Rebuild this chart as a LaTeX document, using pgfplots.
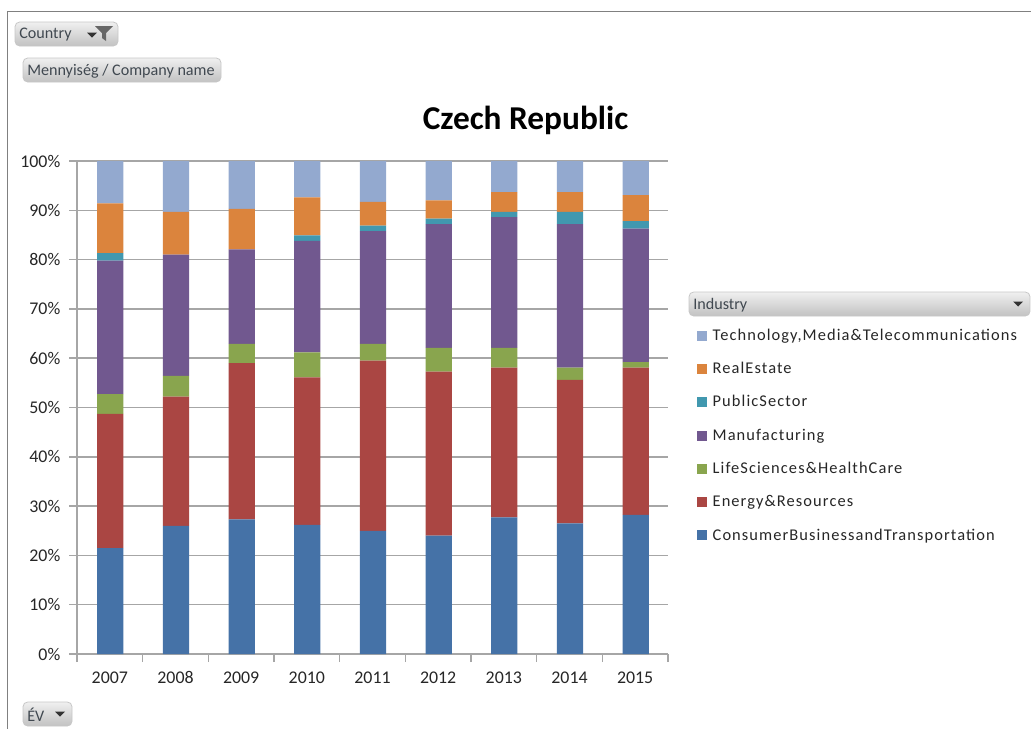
\documentclass[border=0pt]{standalone}
\usepackage{pgfplots}
\usepackage{fontspec}
\pgfplotsset{compat=1.18}
\setmainfont{Carlito}
\newfontfamily\legfont[LetterSpace=6.7]{Carlito}
\definecolor{cCons}{HTML}{4572A7}
\definecolor{cEner}{HTML}{AA4643}
\definecolor{cLife}{HTML}{89A54E}
\definecolor{cManu}{HTML}{71588F}
\definecolor{cPubl}{HTML}{4198AF}
\definecolor{cReal}{HTML}{DB843D}
\definecolor{cTech}{HTML}{93A9CF}
\definecolor{axgray}{HTML}{A6A6A6}
\definecolor{txt}{HTML}{262626}
\definecolor{btntxt}{HTML}{404850}
\pgfplotstableread{
x Cons Ener Life Manu Publ Real Tech
0 21.5 27.2 4.0 27.1 1.5 10.1 8.6
1 26.0 26.2 4.2 24.6 0.0 8.7 10.3
2 27.3 31.7 3.9 19.2 0.0 8.2 9.7
3 26.2 29.9 5.1 22.6 1.1 7.7 7.4
4 25.0 34.5 3.4 22.9 1.1 4.8 8.3
5 24.0 33.3 4.8 25.1 1.1 3.7 8.0
6 27.7 30.4 4.0 26.5 1.1 4.0 6.3
7 26.5 29.1 2.5 29.1 2.5 4.0 6.3
8 28.2 29.9 1.1 27.1 1.5 5.3 6.9
}\datatable
\newcommand{\btn}[5]{% x1,y1,x2,y2,text
  \draw[draw=black!22,top color=black!6,bottom color=black!24,rounded corners=3.5pt,line width=.6pt] (#1,-#2) rectangle (#3,-#4);
  \node[anchor=west,inner sep=0pt,text=btntxt,font=\fontsize{12.1pt}{13pt}\selectfont] at (#1+4,-#2/2-#4/2-1) {#5};
}
\newcommand{\tri}[2]{\fill[black!80] (#1-5,-#2+2.5) -- (#1+5,-#2+2.5) -- (#1,-#2-2.5) -- cycle;}
\begin{document}
\begin{tikzpicture}
\begin{axis}[
  at={(57.75pt,-490.5pt)},anchor=south west,
  scale only axis,width=443.25pt,height=369.75pt,
  ybar stacked,bar width=19.7pt,bar shift=.4pt,
  xmin=-0.5,xmax=8.5,ymin=0,ymax=100,
  xtick={-0.5,0.5,1.5,2.5,3.5,4.5,5.5,6.5,7.5,8.5},
  x tick label as interval,
  xticklabels={2007,2008,2009,2010,2011,2012,2013,2014,2015},
  ytick={0,10,...,100},
  yticklabel={\pgfmathprintnumber{\tick}\%},
  /pgf/number format/assume math mode=true,
  ymajorgrids,
  grid style={axgray,line width=1.1pt},
  axis line style={axgray,line width=1.1pt},
  axis x line*=bottom,axis y line*=left,
  axis line style={-},
  tick style={axgray,line width=1.1pt},
  tick align=outside,major tick length=6pt,
  tick label style={font=\fontsize{13.4pt}{15pt}\selectfont,text=txt},
  every x tick label/.append style={yshift=-3.8pt},
  every y tick label/.append style={xshift=-3pt},
  axis on top=false,
  reverse legend,
  legend style={at={(1.0,0.659)},anchor=north west,draw=none,fill=none,
    /tikz/every odd column/.append style={column sep=4.5pt},
    row sep=13.45pt,inner sep=0pt,outer sep=0pt,xshift=21.5pt,
    font=\legfont\fontsize{12.3pt}{13pt}\selectfont,text=txt,
    nodes={anchor=base west,inner sep=0pt,text height=8.5pt,text depth=3pt}},
  legend cell align=left,
  legend image code/.code={\fill[#1,draw=none] (0pt,-0.2pt) rectangle (7.5pt,7.3pt);},
]
\addplot[fill=cCons,draw=none] table[x=x,y=Cons]{\datatable};
\addplot[fill=cEner,draw=none] table[x=x,y=Ener]{\datatable};
\addplot[fill=cLife,draw=none] table[x=x,y=Life]{\datatable};
\addplot[fill=cManu,draw=none] table[x=x,y=Manu]{\datatable};
\addplot[fill=cPubl,draw=none] table[x=x,y=Publ]{\datatable};
\addplot[fill=cReal,draw=none] table[x=x,y=Real]{\datatable};
\addplot[fill=cTech,draw=none] table[x=x,y=Tech]{\datatable};
\legend{ConsumerBusinessandTransportation,Energy\&Resources,LifeSciences\&HealthCare,Manufacturing,PublicSector,RealEstate,{Technology,Media\&Telecommunications}}
\end{axis}
\begin{scope}[x=0.75pt,y=0.75pt]
\path[use as bounding box] (0,0) rectangle (1031,-729);
\draw[black!50,line width=.8pt] (1031,-11.5) -- (7.5,-11.5) -- (7.5,-729);
\node[font=\bfseries\fontsize{25pt}{28pt}\selectfont,text=black] at (525.5,-120) {Czech Republic};
\btn{15}{22}{118}{46}{Country}
\tri{92}{35}
\fill[black!60] (95,-26) -- (113,-26) -- (106,-33) -- (106,-41) -- (102,-38) -- (102,-33) -- cycle;
\btn{23}{58}{221}{82}{Mennyiség / Company name}
\btn{23}{702}{72}{726}{ÉV}
\tri{60}{714}
\btn{689}{292}{1030}{316}{Industry}
\tri{1018}{304}
\end{scope}
\end{tikzpicture}
\end{document}
